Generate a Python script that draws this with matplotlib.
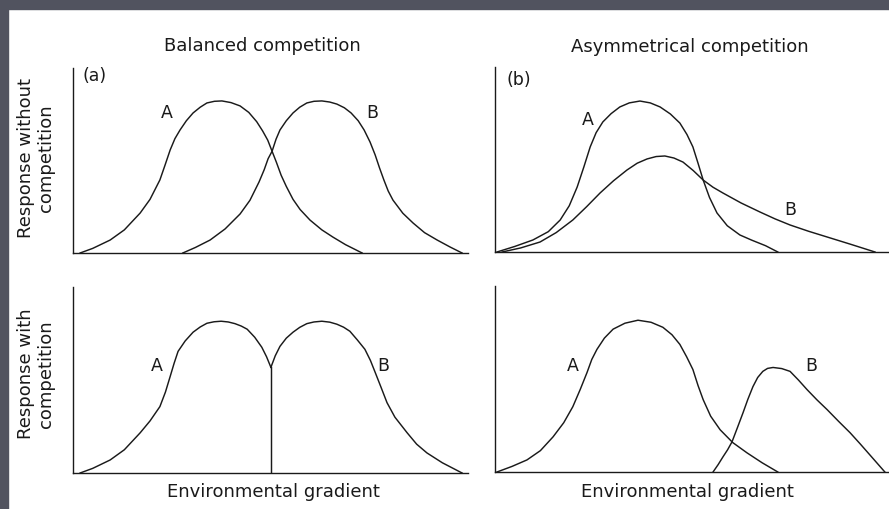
import matplotlib
matplotlib.use('Agg')
import matplotlib.pyplot as plt
from matplotlib.patches import Rectangle

# Gradient position (0-100) and response (0-100) for each species

# (a) balanced competition, response without competition
bal_free_a_x = [1.8, 5.0, 9.4, 13.0, 17.0, 19.5, 22.0, 23.3, 24.6, 25.8, 27.1, 28.7, 30.4, 32.2, 33.9,
                35.8, 37.7, 40.0, 42.3, 44.5, 46.5, 48.0, 49.3, 50.4, 51.5, 52.7, 54.0, 55.7, 57.5,
                60.0, 63.0, 65.8, 69.0, 73.2]
bal_free_a_y = [0, 2.5, 7.0, 12.5, 21.6, 29.0, 39.5, 47.5, 55.7, 61.8, 66.5, 71.5, 75.7, 78.8, 81.1,
                82.0, 82.2, 81.3, 79.5, 76.0, 71.0, 66.0, 61.0, 55.0, 49.0, 42.0, 36.0, 29.0, 23.5,
                17.8, 12.5, 8.6, 4.5, 0]
bal_free_b_x = [27.8, 31.0, 34.7, 38.5, 42.3, 44.8, 47.1, 48.4, 49.4, 50.4, 51.4, 52.4, 54.0, 55.7,
                57.4, 59.2, 61.0, 63.0, 65.0, 66.8, 68.7, 70.4, 72.2, 73.7, 75.2, 76.5, 77.6, 78.7,
                79.8, 81.0, 83.5, 86.1, 89.0, 92.2, 95.5, 98.5]
bal_free_b_y = [0, 3.0, 7.0, 13.0, 21.1, 28.5, 38.4, 45.0, 51.0, 55.0, 61.5, 66.5, 71.5, 75.7,
                78.8, 81.1, 82.0, 82.2, 81.6, 80.5, 78.5, 75.7, 71.5, 66.5, 60.0, 53.0, 46.0, 39.5,
                33.5, 28.6, 21.5, 16.2, 11.0, 7.0, 3.2, 0]

# (a) balanced competition, response with competition
bal_comp_a_x = [1.8, 5.0, 9.4, 13.0, 17.0, 19.5, 22.0, 23.4, 24.6, 25.6, 26.6, 28.4, 30.4, 32.2,
                33.9, 35.7, 37.5, 39.3, 41.0, 42.6, 44.1, 46.0, 47.8, 49.0, 50.1]
bal_comp_a_y = [0, 2.5, 7.0, 12.5, 21.6, 28.0, 35.7, 43.5, 51.9, 59.0, 65.4, 71.0, 75.7, 78.5,
                80.5, 81.3, 81.6, 81.2, 80.3, 79.0, 77.3, 73.0, 67.6, 62.5, 56.8]
bal_comp_b_x = [50.1, 51.2, 52.4, 54.0, 55.7, 57.4, 59.2, 61.0, 63.0, 65.0, 66.8, 68.5, 70.1, 72.0,
                73.9, 75.3, 76.5, 78.0, 79.5, 81.5, 84.6, 87.0, 89.6, 93.5, 98.5]
bal_comp_b_y = [56.8, 63.0, 68.1, 72.5, 75.7, 78.3, 80.3, 81.2, 81.6, 81.1, 80.0, 78.4, 76.2, 71.5,
                66.5, 60.5, 54.1, 46.0, 37.8, 30.0, 21.6, 15.5, 10.8, 5.5, 0]
bal_boundary = 50.1

# (b) asymmetrical competition, response without competition
asym_free_a_x = [0.5, 5.0, 9.6, 13.5, 16.5, 18.8, 20.8, 22.5, 24.1, 25.6, 27.3, 29.4, 31.6, 34.0,
                 36.7, 39.3, 41.8, 44.4, 46.8, 48.6, 50.1, 51.4, 52.7, 54.3, 56.2, 58.8, 62.0,
                 65.0, 68.5, 71.6]
asym_free_a_y = [0, 3.0, 6.5, 11.0, 17.3, 25.0, 35.1, 46.0, 56.8, 64.5, 70.3, 74.8, 78.4, 80.6,
                 81.6, 80.6, 78.4, 74.6, 69.7, 63.5, 56.8, 48.0, 38.9, 29.5, 21.1, 14.2, 9.2,
                 6.4, 3.4, 0]
asym_free_b_x = [1.8, 6.5, 11.4, 15.5, 19.7, 23.2, 26.6, 30.0, 33.4, 36.0, 38.5, 40.8, 43.0, 45.3,
                 47.6, 50.2, 52.7, 55.2, 57.7, 62.3, 67.1, 70.9, 74.7, 79.4, 84.1, 90.0, 96.2]
asym_free_b_y = [0, 2.2, 5.4, 10.5, 17.3, 24.5, 31.9, 38.5, 44.3, 48.0, 50.3, 51.6, 51.9, 50.8,
                 48.6, 44.0, 38.9, 35.0, 31.9, 26.5, 21.6, 17.9, 14.6, 11.2, 8.1, 4.2, 0]

# (b) asymmetrical competition, response with competition
asym_comp_a_x = [0.5, 4.3, 8.1, 11.5, 14.7, 17.4, 19.7, 21.6, 23.3, 24.5, 25.8, 27.7, 29.9, 32.9,
                 36.2, 39.5, 42.5, 44.8, 46.8, 48.5, 50.1, 51.4, 52.7, 54.6, 57.0, 60.2, 63.8,
                 67.6, 71.6]
asym_comp_a_y = [0, 3.0, 6.5, 11.5, 18.9, 26.5, 35.1, 44.5, 53.5, 60.5, 65.9, 72.0, 76.8, 80.0,
                 81.6, 80.5, 77.8, 73.8, 68.6, 62.0, 55.1, 46.5, 38.9, 30.0, 22.7, 15.8, 10.3,
                 5.0, 0]
asym_comp_b_x = [55.2, 56.5, 57.7, 58.9, 60.0, 61.4, 62.8, 64.0, 65.3, 66.5, 67.8, 69.0, 70.4,
                 72.6, 74.7, 76.8, 79.0, 81.5, 84.1, 87.0, 89.9, 92.5, 94.9, 96.8, 98.7]
asym_comp_b_y = [0, 4.0, 8.1, 12.0, 16.2, 24.0, 31.9, 39.0, 45.9, 50.8, 54.1, 55.7, 56.2,
                 55.6, 54.1, 49.5, 44.3, 38.8, 33.5, 27.2, 21.1, 15.0, 9.2, 4.6, 0]

# Curve labels: (text, x, y) per panel
labels_bal_free = [('A', 23.8, 75.7), ('B', 75.7, 75.7)]
labels_bal_comp = [('A', 21.3, 57.3), ('B', 78.5, 57.3)]
labels_asym_free = [('A', 23.5, 71.4), ('B', 74.7, 22.7)]
labels_asym_comp = [('A', 19.7, 56.8), ('B', 80.0, 56.8)]

INK = '#1a1a1a'
plt.rcParams['font.family'] = ['DejaVu Sans']

W, H = 889, 509
fig = plt.figure(figsize=(W / 100, H / 100), dpi=100)
fig.patch.set_facecolor('white')

# dark frame along the left and top edges
fig.patches.append(Rectangle((0, 0), 8 / W, 1, transform=fig.transFigure,
                             color='#51535f', zorder=0))
fig.patches.append(Rectangle((0, 1 - 9 / H), 1, 9 / H, transform=fig.transFigure,
                             color='#51535f', zorder=0))


def make_axes(left_px, base_px, width_px=395, height_px=185):
    ax = fig.add_axes([left_px / W, (H - base_px) / H, width_px / W, height_px / H])
    ax.set_xlim(0, 100)
    ax.set_ylim(0, 100)
    for side in ['top', 'right']:
        ax.spines[side].set_visible(False)
    for side in ['left', 'bottom']:
        ax.spines[side].set_color(INK)
        ax.spines[side].set_linewidth(1.0)
    ax.set_xticks([])
    ax.set_yticks([])
    ax.patch.set_alpha(0)
    return ax


def draw_labels(ax, labels):
    for txt, x, y in labels:
        ax.text(x, y, txt, ha='center', va='center', fontsize=12.5, color=INK)


ax_a1 = make_axes(73, 253)
ax_a2 = make_axes(73, 473, height_px=186)
ax_b1 = make_axes(495, 252)
ax_b2 = make_axes(495, 472, height_px=186)

lw = 1.05
ax_a1.plot(bal_free_a_x, bal_free_a_y, color=INK, lw=lw)
ax_a1.plot(bal_free_b_x, bal_free_b_y, color=INK, lw=lw)
draw_labels(ax_a1, labels_bal_free)
ax_a1.text(2.5, 95.7, '(a)', ha='left', va='center', fontsize=12.5, color=INK)

ax_a2.plot(bal_comp_a_x, bal_comp_a_y, color=INK, lw=lw)
ax_a2.plot(bal_comp_b_x, bal_comp_b_y, color=INK, lw=lw)
ax_a2.plot([bal_boundary, bal_boundary], [0, bal_comp_a_y[-1]], color=INK, lw=lw)
draw_labels(ax_a2, labels_bal_comp)

ax_b1.plot(asym_free_a_x, asym_free_a_y, color=INK, lw=lw)
ax_b1.plot(asym_free_b_x, asym_free_b_y, color=INK, lw=lw)
draw_labels(ax_b1, labels_asym_free)
ax_b1.text(3.0, 93.0, '(b)', ha='left', va='center', fontsize=12.5, color=INK)

ax_b2.plot(asym_comp_a_x, asym_comp_a_y, color=INK, lw=lw)
ax_b2.plot(asym_comp_b_x, asym_comp_b_y, color=INK, lw=lw)
draw_labels(ax_b2, labels_asym_comp)


# column titles, row labels and gradient labels
def px_text(x, y, s, **kw):
    fig.text(x / W, 1 - y / H, s, ha='center', va='center', color=INK,
             fontsize=13, **kw)


px_text(262, 46, 'Balanced competition')
px_text(690, 47, 'Asymmetrical competition')
px_text(36, 158, 'Response without\ncompetition', rotation=90, linespacing=1.1)
px_text(36, 374, 'Response with\ncompetition', rotation=90, linespacing=1.1)
px_text(273, 492, 'Environmental gradient')
px_text(687, 492, 'Environmental gradient')

fig.savefig('out.png', dpi=100)
